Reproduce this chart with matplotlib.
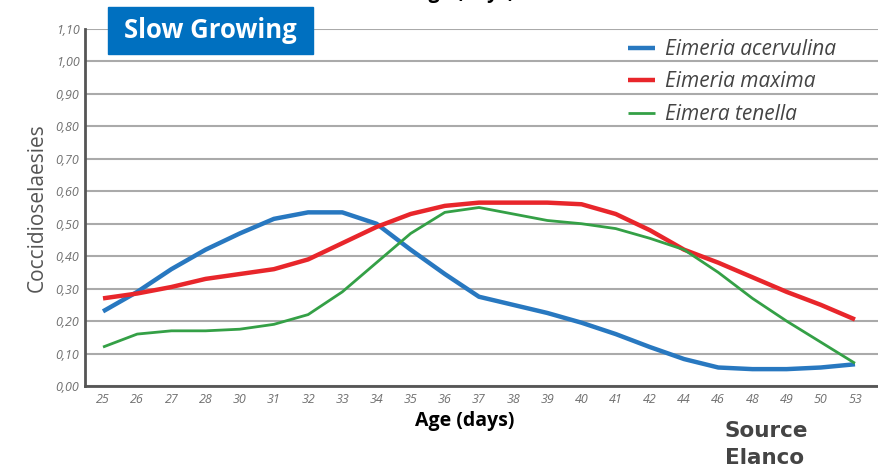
import matplotlib
matplotlib.use("Agg")
import matplotlib.pyplot as plt
from matplotlib.patches import Rectangle

ages = ["25", "26", "27", "28", "30", "31", "32", "33", "34", "35", "36", "37",
        "38", "39", "40", "41", "42", "44", "46", "48", "49", "50", "53"]
acervulina = [0.23, 0.29, 0.36, 0.42, 0.47, 0.515, 0.535, 0.535, 0.50, 0.42, 0.345, 0.275,
              0.25, 0.225, 0.195, 0.16, 0.12, 0.083, 0.057, 0.052, 0.052, 0.057, 0.067]
maxima = [0.27, 0.285, 0.305, 0.33, 0.345, 0.36, 0.39, 0.44, 0.49, 0.53, 0.555, 0.565,
          0.565, 0.565, 0.56, 0.53, 0.48, 0.42, 0.38, 0.335, 0.29, 0.25, 0.205]
tenella = [0.12, 0.16, 0.17, 0.17, 0.175, 0.19, 0.22, 0.29, 0.38, 0.47, 0.535, 0.55,
           0.53, 0.51, 0.50, 0.485, 0.455, 0.42, 0.35, 0.27, 0.20, 0.135, 0.07]
yticks = [0.0, 0.1, 0.2, 0.3, 0.4, 0.5, 0.6, 0.7, 0.8, 0.9, 1.0, 1.1]
series_names = ["Eimeria acervulina", "Eimeria maxima", "Eimera tenella"]

plt.rcParams['font.family'] = ['Open Sans', 'DejaVu Sans']

fig = plt.figure(figsize=(8.79, 4.68), dpi=100)
ax = fig.add_axes([85/879, 82/468, 793/879, 357/468])

x = list(range(len(ages)))
ax.plot(x, acervulina, color="#2878c0", lw=3.2, label=series_names[0], solid_capstyle='butt', zorder=3)
ax.plot(x, maxima, color="#e8262b", lw=3.2, label=series_names[1], solid_capstyle='butt', zorder=3)
ax.plot(x, tenella, color="#34a046", lw=2.0, label=series_names[2], solid_capstyle='butt', zorder=3)

ax.set_xlim(-0.527, 22.673)
ax.set_ylim(0, 1.10)
ax.set_yticks(yticks)
ax.set_yticklabels([f"{v:.2f}".replace(".", ",") for v in yticks])
ax.set_xticks(x)
ax.set_xticklabels(ages)
for lab in ax.get_xticklabels() + ax.get_yticklabels():
    lab.set_fontstyle('italic')
    lab.set_fontsize(9)
    lab.set_color('#707070')
ax.tick_params(axis='y', length=0, pad=4)
ax.tick_params(axis='x', length=0, pad=5)
ax.yaxis.grid(True, color="#aaaaaa", lw=1.5)
ax.set_axisbelow(True)
for s in ["top", "right"]:
    ax.spines[s].set_visible(False)
for s in ["left", "bottom"]:
    ax.spines[s].set_color("#555555")
    ax.spines[s].set_linewidth(2)

ax.set_ylabel("Coccidioselaesies", fontsize=15, color="#555555", labelpad=6)

leg = ax.legend(loc='upper left', bbox_to_anchor=(0.685, 0.972), frameon=False,
                borderaxespad=0, borderpad=0, handlelength=1.3, handletextpad=0.45,
                labelspacing=0.55, prop={'style': 'italic', 'size': 15})
for t in leg.get_texts():
    t.set_color('#444444')

# Title box
fig.patches.append(Rectangle((108/879, (468-54)/468), 205/879, 47/468,
                             transform=fig.transFigure, color="#0070c0", zorder=5))
fig.text(210/879, (468-31)/468, "Slow Growing", color="white", fontsize=18.5,
         fontweight='bold', ha='center', va='center', zorder=6)

fig.text(465/879, 1.0 + 0.014, "Age (days)", fontsize=14, fontweight='bold',
         ha='center', va='center', color='black')
fig.text(465/879, (468-421)/468, "Age (days)", fontsize=14, fontweight='bold',
         ha='center', va='center', color='black')
fig.text(725/879, (468-431)/468, "Source", fontsize=15.5, fontweight='bold',
         ha='left', va='center', color='#444444', family='DejaVu Sans')
fig.text(725/879, (468-458)/468, "Elanco", fontsize=15.5, fontweight='bold',
         ha='left', va='center', color='#444444', family='DejaVu Sans')

fig.savefig("out.png", dpi=100)
